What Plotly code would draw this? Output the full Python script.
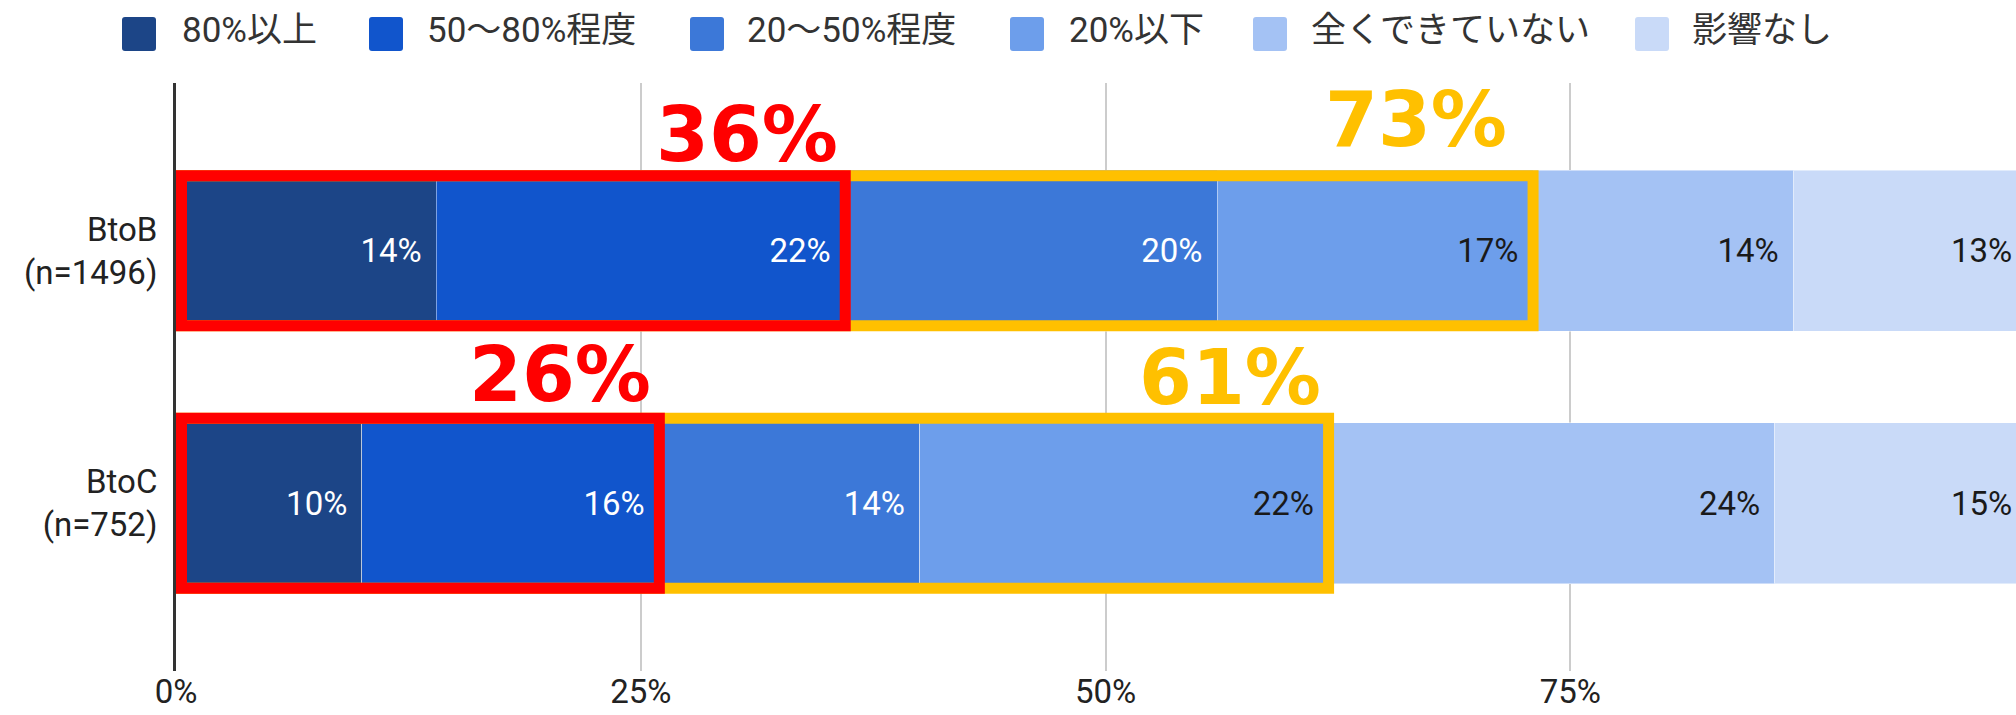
import plotly.graph_objects as go

# ---- data -------------------------------------------------------------
CATEGORIES = ["BtoB<br>(n=1496)", "BtoC<br>(n=752)"]
SERIES = ["80%以上", "50〜80%程度", "20〜50%程度", "20%以下", "全くできていない", "影響なし"]
VALUES_BTOB = [14, 22, 20, 17, 14, 13]
VALUES_BTOC = [10, 16, 14, 22, 24, 15]
RED_TOTALS = [36, 26]      # share of the first two groups, per row
YELLOW_TOTALS = [73, 61]   # share of the first four groups, per row
X_TICKS = [0, 25, 50, 75, 100]
X_TICK_TEXT = ["0%", "25%", "50%", "75%", "100%"]

# ---- styling ----------------------------------------------------------
COLORS = ["#1C4587", "#1155CC", "#3C78D8", "#6D9EEB", "#A4C2F4", "#C9DAF8"]
TEXT_COLORS = ["#FFFFFF", "#FFFFFF", "#FFFFFF", "#1A1A1A", "#1A1A1A", "#1A1A1A"]
RED, YELLOW = "#FF0000", "#FFC000"
FONT = "Roboto, 'Noto Sans CJK JP', sans-serif"
BIG_FONT = "'DejaVu Sans', 'Noto Sans CJK JP', sans-serif"
FS = 33
LEG_FS = 35
BIG_FS = 76
LABEL_PAD = "\u00a0\u200a"

W, H = 2016, 715
M_L, M_R, M_T, M_B = 176, 0, 83, 44
PLOT_W, PLOT_H = W - M_L - M_R, H - M_T - M_B
PX_PER_PCT = 18.59
X_MAX = PLOT_W / PX_PER_PCT
BAR_W = 0.638
Y_PAD = 0.664
PX_PER_ROW = PLOT_H / (1 + 2 * Y_PAD)

BOX_STROKE = 11
ROW_BOX_PAD_PX = [0, 10]          # how far each row's highlight box extends past the bar
BIG_DX = [[-6, -25], [-7, -7]]    # right-edge offsets of the headline numbers (px)
BIG_DY = [[116, 131], [129, 126]] # height of the headline numbers above the bar centre (px)

LEG_SQ_X = [122, 369, 690, 1010, 1253, 1635]
LEG_TX_X = [180, 425, 745, 1067, 1309, 1690]
LEG_SQ = 34
LEG_CY = 34
LEG_TEXT_CY = 31


def px_x(px):
    return (px - M_L) / PLOT_W


def px_y(py):
    return (H - M_B - py) / PLOT_H


def rounded_square(x0, y0, size, r):
    """Rounded square given in pixels, returned as a paper-space SVG path."""
    x1, y1 = x0 + size, y0 + size
    pts = [
        f"M{px_x(x0 + r)},{px_y(y0)}",
        f"L{px_x(x1 - r)},{px_y(y0)}",
        f"Q{px_x(x1)},{px_y(y0)} {px_x(x1)},{px_y(y0 + r)}",
        f"L{px_x(x1)},{px_y(y1 - r)}",
        f"Q{px_x(x1)},{px_y(y1)} {px_x(x1 - r)},{px_y(y1)}",
        f"L{px_x(x0 + r)},{px_y(y1)}",
        f"Q{px_x(x0)},{px_y(y1)} {px_x(x0)},{px_y(y1 - r)}",
        f"L{px_x(x0)},{px_y(y0 + r)}",
        f"Q{px_x(x0)},{px_y(y0)} {px_x(x0 + r)},{px_y(y0)}",
        "Z",
    ]
    return " ".join(pts)


fig = go.Figure()
shapes = []
annotations = []

rows = [VALUES_BTOB, VALUES_BTOC]
last = len(SERIES) - 1
for i, name in enumerate(SERIES):
    vals = [r[i] for r in rows]
    # the right-most segment runs past the visible range, so its label is
    # placed separately below and kept inside the plot
    labels = [f"{v}%{LABEL_PAD}" for v in vals] if i < last else None
    fig.add_trace(go.Bar(
        name=name,
        y=CATEGORIES,
        x=vals,
        orientation="h",
        marker=dict(color=COLORS[i], line=dict(color="rgba(255,255,255,0.45)", width=1)),
        text=labels,
        textposition="inside" if i < last else "none",
        insidetextanchor="end",
        textangle=0,
        constraintext="none",
        insidetextfont=dict(family=FONT, size=FS, color=TEXT_COLORS[i]),
        showlegend=False,
        hoverinfo="skip",
    ))

for r, vals in enumerate(rows):
    end = min(sum(vals), X_MAX)
    annotations.append(dict(
        x=end, y=r, xref="x", yref="y", xanchor="right", yanchor="middle",
        xshift=-3, text=f"{vals[last]}%", showarrow=False, borderpad=0,
        font=dict(family=FONT, size=FS, color=TEXT_COLORS[last]),
    ))

# ---- highlight boxes and headline numbers -----------------------------
half_x = BOX_STROKE / 2 / PX_PER_PCT
for r, vals in enumerate(rows):
    cum2 = sum(vals[:2])
    cum4 = sum(vals[:4])
    half_y = BAR_W / 2 + (ROW_BOX_PAD_PX[r] - BOX_STROKE / 2) / PX_PER_ROW
    for end, color in ((cum4, YELLOW), (cum2, RED)):
        shapes.append(dict(
            type="rect", xref="x", yref="y",
            x0=half_x, x1=end, y0=r - half_y, y1=r + half_y,
            line=dict(color=color, width=BOX_STROKE),
            fillcolor="rgba(0,0,0,0)", layer="above",
        ))
    for k, (end, total, color) in enumerate(((cum2, RED_TOTALS[r], RED),
                                              (cum4, YELLOW_TOTALS[r], YELLOW))):
        annotations.append(dict(
            x=end, y=r, xref="x", yref="y",
            xanchor="right", yanchor="middle",
            xshift=BIG_DX[r][k], yshift=BIG_DY[r][k],
            text=f"<b>{total}%</b>", showarrow=False, borderpad=0,
            font=dict(family=BIG_FONT, size=BIG_FS, color=color),
        ))

# ---- legend row -------------------------------------------------------
for i, name in enumerate(SERIES):
    shapes.append(dict(
        type="path", xref="paper", yref="paper",
        path=rounded_square(LEG_SQ_X[i], LEG_CY - LEG_SQ / 2, LEG_SQ, 3),
        fillcolor=COLORS[i], line=dict(width=0), layer="above",
    ))
    annotations.append(dict(
        x=px_x(LEG_TX_X[i]), y=px_y(LEG_TEXT_CY), xref="paper", yref="paper",
        xanchor="left", yanchor="middle", text=name, showarrow=False,
        font=dict(family=FONT, size=LEG_FS, color="#333333"),
    ))

fig.update_layout(
    template="none",
    barmode="stack",
    bargap=1 - BAR_W,
    width=W, height=H,
    margin=dict(l=M_L, r=M_R, t=M_T, b=M_B, pad=0, autoexpand=False),
    paper_bgcolor="white", plot_bgcolor="white",
    font=dict(family=FONT, size=FS, color="#222222"),
    shapes=shapes,
    annotations=annotations,
    showlegend=False,
    xaxis=dict(
        range=[0, X_MAX], tickmode="array", tickvals=X_TICKS, ticktext=X_TICK_TEXT,
        showgrid=True, gridcolor="#CCCCCC", gridwidth=2,
        zeroline=False, showline=False, automargin=False,
        ticks="outside", ticklen=0, ticklabelstandoff=-9,
        tickcolor="rgba(0,0,0,0)",
        tickfont=dict(family=FONT, size=FS, color="#222222"),
        fixedrange=True,
    ),
    yaxis=dict(
        type="category", categoryorder="array", categoryarray=CATEGORIES,
        range=[1 + Y_PAD, -Y_PAD],
        showgrid=False, zeroline=False, automargin=False,
        showline=True, linecolor="#333333", linewidth=3,
        ticks="outside", ticklen=9, tickcolor="rgba(0,0,0,0)",
        tickfont=dict(family=FONT, size=FS, color="#222222"),
        fixedrange=True,
    ),
)

fig.write_html("out.html", config={"displayModeBar": False})
